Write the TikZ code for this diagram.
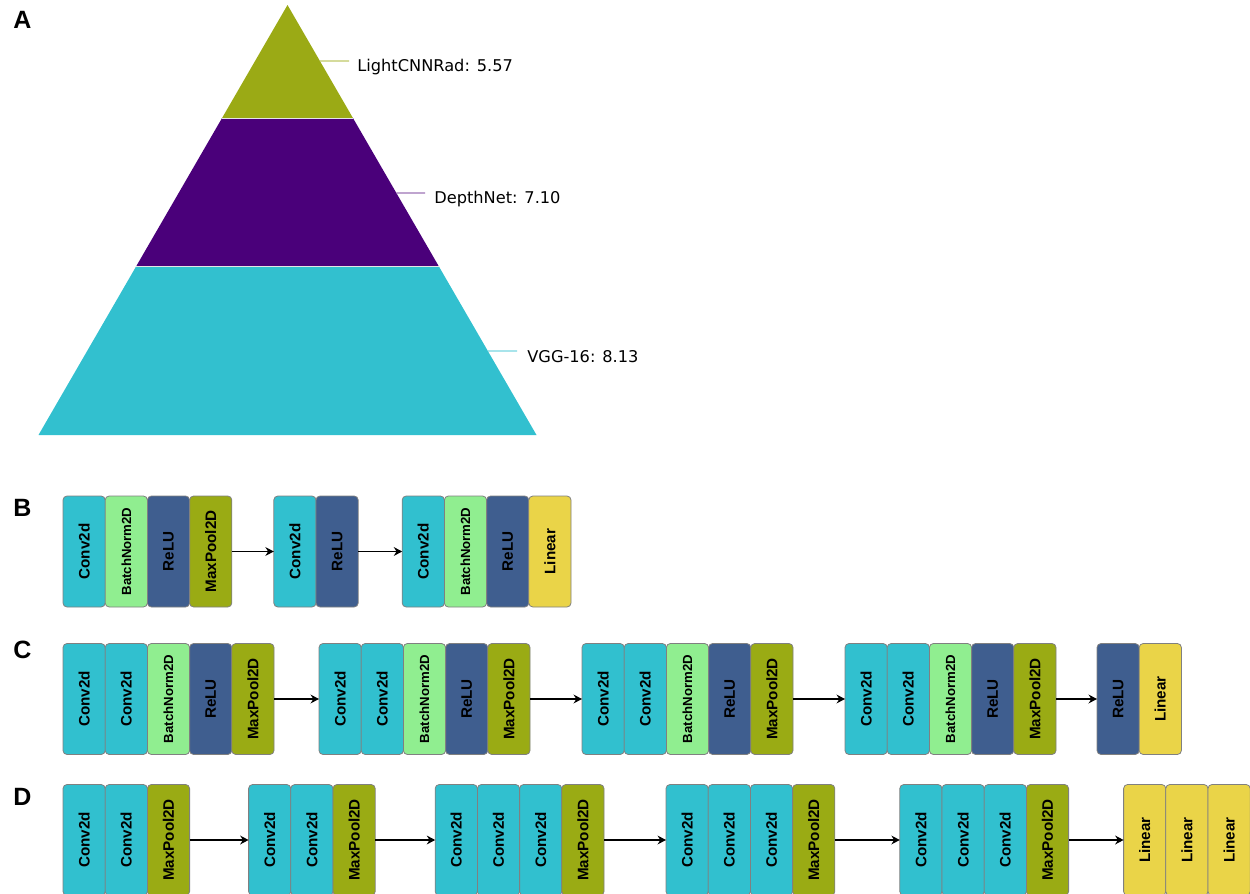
\documentclass[tikz,border=0pt]{standalone}
\usepackage{fontspec}
\setmainfont{Liberation Sans}
\newfontfamily\pyrfont{DejaVu Sans}
\usetikzlibrary{arrows.meta,calc,positioning}

\definecolor{pyolive}{HTML}{9BAA15}
\definecolor{pypurple}{HTML}{4A007A}
\definecolor{pycyan}{HTML}{32C0CF}
\definecolor{convc}{HTML}{31C0CF}
\definecolor{bnc}{HTML}{90EE90}
\definecolor{reluc}{HTML}{3F5E8F}
\definecolor{poolc}{HTML}{9AAB14}
\definecolor{linc}{HTML}{EAD448}

\newcommand{\vlab}[1]{\rotatebox{90}{#1}}

\begin{document}
\begin{tikzpicture}[
  x=0.5pt, y=-0.5pt,
  node distance=0pt,
  blk/.style={draw=black!50, line width=0.4pt, rounded corners=2pt, minimum width=21.1pt, minimum height=55.5pt, inner sep=0pt, outer sep=0pt, font=\fontsize{7.6}{8}\selectfont\bfseries},
  conv/.style={blk, fill=convc},
  bn/.style={blk, fill=bnc, font=\fontsize{6.6}{7}\selectfont\bfseries},
  relu/.style={blk, fill=reluc},
  pool/.style={blk, fill=poolc},
  lin/.style={blk, fill=linc},
  arr/.style={-{Stealth[length=4.2pt, width=4.4pt]}, line width=0.8pt},
  tag/.style={font=\fontsize{12.5}{14}\selectfont\bfseries, anchor=west, inner sep=0pt},
  plabel/.style={font=\pyrfont\fontsize{8.1}{9}\selectfont, anchor=west, inner sep=0pt},
  lead/.style={line width=0.7pt}
]
  \useasboundingbox (0,0) rectangle (1250,894);

  % panel A: pyramid
  \coordinate (apex) at (287.5,5);
  \coordinate (bl) at (38.5,435);
  \coordinate (br) at (536.5,435);
  \coordinate (l1) at ($(apex)!0.2628!(bl)$);
  \coordinate (r1) at ($(apex)!0.2628!(br)$);
  \coordinate (l2) at ($(apex)!0.6093!(bl)$);
  \coordinate (r2) at ($(apex)!0.6093!(br)$);
  \fill[pyolive] (apex) -- (r1) -- (l1) -- cycle;
  \fill[pypurple] (l1) -- (r1) -- (r2) -- (l2) -- cycle;
  \fill[pycyan] (l2) -- (r2) -- (br) -- (bl) -- cycle;
  \draw[white!80!gray, line width=0.5pt] (l1) -- (r1);
  \draw[white!80!gray, line width=0.5pt] (l2) -- (r2);

  \coordinate (lcnnend) at (349,61);
  \coordinate (depthend) at (425,193);
  \coordinate (vggend) at (517,351);
  \node[plabel] (lcnn) at (357,67) {LightCNNRad: 5.57};
  \node[plabel] (depth) at (434,199) {DepthNet: 7.10};
  \node[plabel] (vgg) at (527,357) {VGG-16: 8.13};
  \draw[lead, pyolive!65] ($(apex)!0.1302!(br)$) -- (lcnnend);
  \draw[lead, pypurple!55] ($(apex)!0.4372!(br)$) -- (depthend);
  \draw[lead, pycyan!65] ($(apex)!0.8047!(br)$) -- (vggend);

  \node[tag] (taga) at (13,20) {A};
  \node[tag] (tagb) at (13,508) {B};
  \node[tag] (tagc) at (13,650) {C};
  \node[tag] (tagd) at (13,797) {D};

  % panel B
  \node[conv, anchor=west] (b1conv) at (63,551.5) {\vlab{Conv2d}};
  \node[bn, right=of b1conv] (b1bn) {\vlab{BatchNorm2D}};
  \node[relu, right=of b1bn] (b1relu) {\vlab{ReLU}};
  \node[pool, right=of b1relu] (b1pool) {\vlab{MaxPool2D}};
  \node[conv, right=21pt of b1pool] (b2conv) {\vlab{Conv2d}};
  \node[relu, right=of b2conv] (b2relu) {\vlab{ReLU}};
  \node[conv, right=22pt of b2relu] (b3conv) {\vlab{Conv2d}};
  \node[bn, right=of b3conv] (b3bn) {\vlab{BatchNorm2D}};
  \node[relu, right=of b3bn] (b3relu) {\vlab{ReLU}};
  \node[lin, right=of b3relu] (b3lin) {\vlab{Linear}};

  \draw[arr] (b1pool) -- (b2conv);
  \draw[arr] (b2relu) -- (b3conv);

  % panel C
  \node[conv, anchor=west] (c1conva) at (63,699) {\vlab{Conv2d}};
  \node[conv, right=of c1conva] (c1convb) {\vlab{Conv2d}};
  \node[bn, right=of c1convb] (c1bn) {\vlab{BatchNorm2D}};
  \node[relu, right=of c1bn] (c1relu) {\vlab{ReLU}};
  \node[pool, right=of c1relu] (c1pool) {\vlab{MaxPool2D}};
  \node[conv, right=22.5pt of c1pool] (c2conva) {\vlab{Conv2d}};
  \node[conv, right=of c2conva] (c2convb) {\vlab{Conv2d}};
  \node[bn, right=of c2convb] (c2bn) {\vlab{BatchNorm2D}};
  \node[relu, right=of c2bn] (c2relu) {\vlab{ReLU}};
  \node[pool, right=of c2relu] (c2pool) {\vlab{MaxPool2D}};
  \node[conv, right=26pt of c2pool] (c3conva) {\vlab{Conv2d}};
  \node[conv, right=of c3conva] (c3convb) {\vlab{Conv2d}};
  \node[bn, right=of c3convb] (c3bn) {\vlab{BatchNorm2D}};
  \node[relu, right=of c3bn] (c3relu) {\vlab{ReLU}};
  \node[pool, right=of c3relu] (c3pool) {\vlab{MaxPool2D}};
  \node[conv, right=26pt of c3pool] (c4conva) {\vlab{Conv2d}};
  \node[conv, right=of c4conva] (c4convb) {\vlab{Conv2d}};
  \node[bn, right=of c4convb] (c4bn) {\vlab{BatchNorm2D}};
  \node[relu, right=of c4bn] (c4relu) {\vlab{ReLU}};
  \node[pool, right=of c4relu] (c4pool) {\vlab{MaxPool2D}};
  \node[relu, right=20.5pt of c4pool] (c5relu) {\vlab{ReLU}};
  \node[lin, right=of c5relu] (c5lin) {\vlab{Linear}};

  \draw[arr] (c1pool) -- (c2conva);
  \draw[arr] (c2pool) -- (c3conva);
  \draw[arr] (c3pool) -- (c4conva);
  \draw[arr] (c4pool) -- (c5relu);

  % panel D
  \node[conv, anchor=west] (d1conva) at (63,840) {\vlab{Conv2d}};
  \node[conv, right=of d1conva] (d1convb) {\vlab{Conv2d}};
  \node[pool, right=of d1convb] (d1pool) {\vlab{MaxPool2D}};
  \node[conv, right=29.5pt of d1pool] (d2conva) {\vlab{Conv2d}};
  \node[conv, right=of d2conva] (d2convb) {\vlab{Conv2d}};
  \node[pool, right=of d2convb] (d2pool) {\vlab{MaxPool2D}};
  \node[conv, right=30pt of d2pool] (d3conva) {\vlab{Conv2d}};
  \node[conv, right=of d3conva] (d3convb) {\vlab{Conv2d}};
  \node[conv, right=of d3convb] (d3convc) {\vlab{Conv2d}};
  \node[pool, right=of d3convc] (d3pool) {\vlab{MaxPool2D}};
  \node[conv, right=31pt of d3pool] (d4conva) {\vlab{Conv2d}};
  \node[conv, right=of d4conva] (d4convb) {\vlab{Conv2d}};
  \node[conv, right=of d4convb] (d4convc) {\vlab{Conv2d}};
  \node[pool, right=of d4convc] (d4pool) {\vlab{MaxPool2D}};
  \node[conv, right=32.5pt of d4pool] (d5conva) {\vlab{Conv2d}};
  \node[conv, right=of d5conva] (d5convb) {\vlab{Conv2d}};
  \node[conv, right=of d5convb] (d5convc) {\vlab{Conv2d}};
  \node[pool, right=of d5convc] (d5pool) {\vlab{MaxPool2D}};
  \node[lin, right=27.5pt of d5pool] (d6lina) {\vlab{Linear}};
  \node[lin, right=of d6lina] (d6linb) {\vlab{Linear}};
  \node[lin, right=of d6linb] (d6linc) {\vlab{Linear}};

  \draw[arr] (d1pool) -- (d2conva);
  \draw[arr] (d2pool) -- (d3conva);
  \draw[arr] (d3pool) -- (d4conva);
  \draw[arr] (d4pool) -- (d5conva);
  \draw[arr] (d5pool) -- (d6lina);
\end{tikzpicture}
\end{document}
